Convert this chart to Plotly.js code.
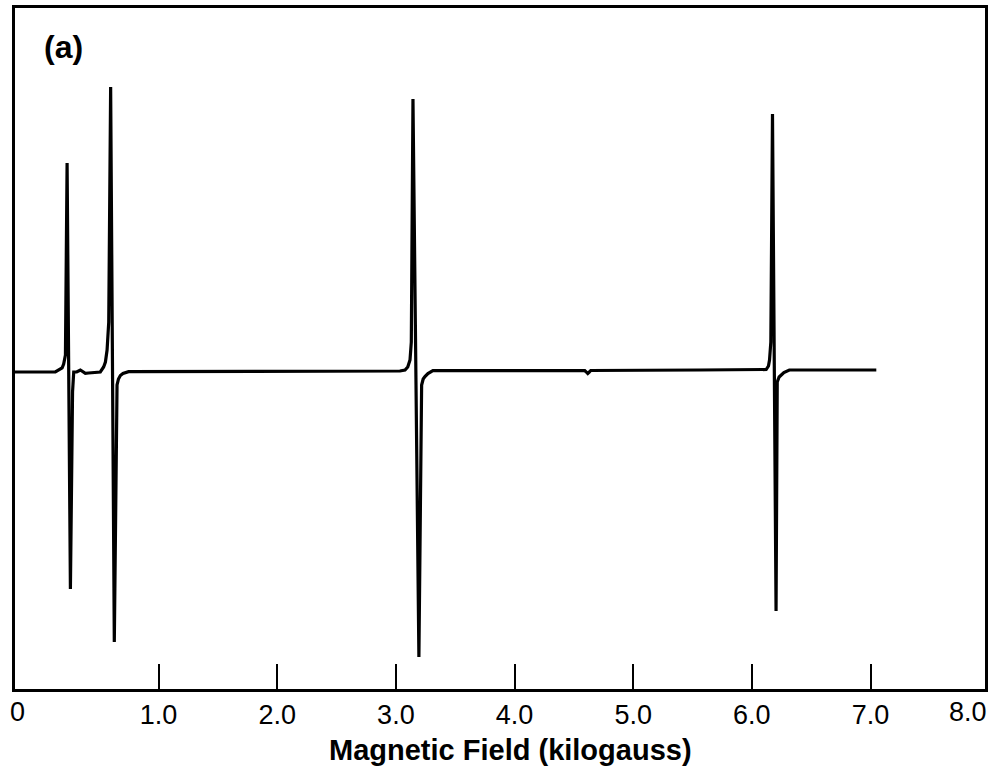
<!DOCTYPE html>
<html>
<head>
<meta charset="utf-8">
<script src="https://cdn.plot.ly/plotly-3.0.1.min.js"></script>
<style>
  html, body { margin: 0; padding: 0; background: #fff; }
  #chart { width: 1002px; height: 771px; }
</style>
</head>
<body>
<div id="chart"></div>
<script>
// Magnetic field (kilogauss)
var field = [
  -0.21, 0.13, 0.187, 0.200, 0.215, 0.229, 0.257, 0.275, 0.285, 0.310, 0.341, 0.362, 0.383, 0.410, 0.439,
  0.509, 0.537, 0.552, 0.566, 0.580, 0.596, 0.627, 0.650, 0.662, 0.678, 0.700, 0.747,
  1.351, 2.193,
  3.034, 3.077, 3.100, 3.119, 3.130, 3.144, 3.194, 3.217, 3.230, 3.245, 3.270, 3.312,
  3.876, 4.592, 4.605, 4.617, 4.630, 4.642, 5.560,
  6.121, 6.140, 6.149, 6.160, 6.174, 6.204, 6.214, 6.230, 6.248, 6.270, 6.316, 7.049
];
// Derivative signal (arbitrary units, baseline = 0)
var signal = [
  0.00, 0.00, 0.04, 0.08, 0.17, 2.09, -2.17, -0.20, 0.00, 0.00, 0.02, 0.00, -0.013, -0.01, -0.007,
  0.00, 0.05, 0.10, 0.22, 0.50, 2.85, -2.70, -0.13, -0.07, -0.035, -0.015, 0.003,
  0.005, 0.01,
  0.01, 0.02, 0.05, 0.12, 0.30, 2.73, -2.85, -0.13, -0.07, -0.045, -0.015, 0.013,
  0.015, 0.015, 0.00, -0.015, 0.00, 0.015, 0.02,
  0.025, 0.06, 0.12, 0.30, 2.58, -2.39, -0.10, -0.05, -0.03, -0.005, 0.02, 0.02
];
var tickValues = [1, 2, 3, 4, 5, 6, 7];
var tickLabels = ["1.0", "2.0", "3.0", "4.0", "5.0", "6.0", "7.0"];
var edgeLabels = ["0", "8.0"];
var panelLabel = "(a)";
var xTitle = "Magnetic Field (kilogauss)";

var trace = {
  x: field,
  y: signal,
  type: "scatter",
  mode: "lines",
  line: { color: "#000", width: 3.2, shape: "linear" },
  hoverinfo: "skip"
};

var layout = {
  width: 1002,
  height: 771,
  margin: { l: 15, r: 17, t: 8, b: 82, pad: 0 },
  paper_bgcolor: "#fff",
  plot_bgcolor: "#fff",
  showlegend: false,
  font: { family: "Liberation Sans, Arial, sans-serif", color: "#000" },
  xaxis: {
    range: [-0.21, 7.965],
    showgrid: false,
    zeroline: false,
    showline: true,
    linecolor: "#000",
    linewidth: 3,
    mirror: true,
    ticks: "inside",
    ticklen: 25,
    tickwidth: 2,
    tickcolor: "#000",
    tickmode: "array",
    tickvals: tickValues,
    ticktext: tickLabels,
    tickfont: { size: 27, family: "Liberation Sans, Arial, sans-serif", color: "#000" },
    ticklabelstandoff: 0
  },
  yaxis: {
    range: [-3.17, 3.64],
    showgrid: false,
    zeroline: false,
    showline: true,
    linecolor: "#000",
    linewidth: 3,
    mirror: true,
    ticks: "",
    showticklabels: false
  },
  annotations: [
    { text: edgeLabels[0], xref: "paper", yref: "paper", x: 0.003, y: -0.034, xanchor: "center", yanchor: "middle",
      showarrow: false, font: { size: 27, family: "Liberation Sans, Arial, sans-serif", color: "#000" } },
    { text: edgeLabels[1], xref: "paper", yref: "paper", x: 0.982, y: -0.034, xanchor: "center", yanchor: "middle",
      showarrow: false, font: { size: 27, family: "Liberation Sans, Arial, sans-serif", color: "#000" } },
    { text: "<b>" + xTitle + "</b>", xref: "paper", yref: "paper", x: 0.511, y: -0.090, xanchor: "center", yanchor: "middle",
      showarrow: false, font: { size: 29, family: "Liberation Sans, Arial, sans-serif", color: "#000" } },
    { text: "<b>" + panelLabel + "</b>", xref: "paper", yref: "paper", x: 0.028, y: 0.942, xanchor: "left", yanchor: "middle",
      showarrow: false, font: { size: 32, family: "Liberation Sans, Arial, sans-serif", color: "#000" } }
  ]
};

Plotly.newPlot("chart", [trace], layout, { displayModeBar: false, staticPlot: true });
</script>
</body>
</html>
